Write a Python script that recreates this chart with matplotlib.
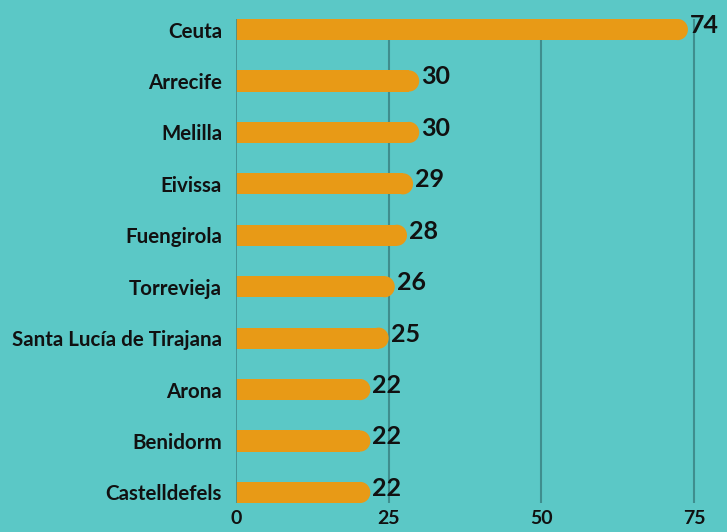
import matplotlib.pyplot as plt
from matplotlib.patches import Ellipse

# Datos
ciudades = ['Ceuta', 'Arrecife', 'Melilla', 'Eivissa', 'Fuengirola', 'Torrevieja',
            'Santa Lucía de Tirajana', 'Arona', 'Benidorm', 'Castelldefels']
valores = [74, 30, 30, 29, 28, 26, 25, 22, 22, 22]
ticks = [0, 25, 50, 75]

fondo = '#5BC8C6'
naranja = '#E89A16'
rejilla = '#3F8E8E'

plt.rcParams['font.family'] = ['Lato', 'DejaVu Sans']

fig = plt.figure(figsize=(7.27, 5.32), dpi=100, facecolor=fondo)
ax = fig.add_axes([236 / 727, 1 - 503 / 532, 1 - 236 / 727, (503 - 19) / 532])
ax.set_facecolor(fondo)

alto = 0.41
xmax = (727 - 236) / 6.107
ax.set_xlim(0, xmax)
ax.set_ylim(len(ciudades) - 1 + alto / 2, -alto / 2)

# radio del extremo redondeado en unidades de datos
r = 1.65
pos = range(len(ciudades))
ax.barh(pos, [v - r for v in valores], height=alto, color=naranja, zorder=3)
for i, v in enumerate(valores):
    ax.add_patch(Ellipse((v - r, i), 2 * r, alto, color=naranja, zorder=3, lw=0))
    ax.text(v + 0.3, i - 0.08, str(v), fontsize=18, fontweight='bold',
            color='#111111', va='center', ha='left', clip_on=False, zorder=4)

# Rejilla
for t in ticks[1:]:
    ax.axvline(t, color=rejilla, lw=1.5, zorder=1)
ax.axvline(0, color=rejilla, lw=1.2, zorder=4)

ax.set_yticks(list(pos))
ax.set_yticklabels(ciudades, fontsize=14.8, fontweight='bold', color='#111111')
ax.set_xticks(ticks)
ax.set_xticklabels([str(t) for t in ticks], fontsize=14, fontweight='bold', color='#111111')
ax.tick_params(length=0, pad=10)
ax.tick_params(axis='x', pad=5)
for s in ax.spines.values():
    s.set_visible(False)

plt.savefig('out.png', dpi=100, facecolor=fondo)
